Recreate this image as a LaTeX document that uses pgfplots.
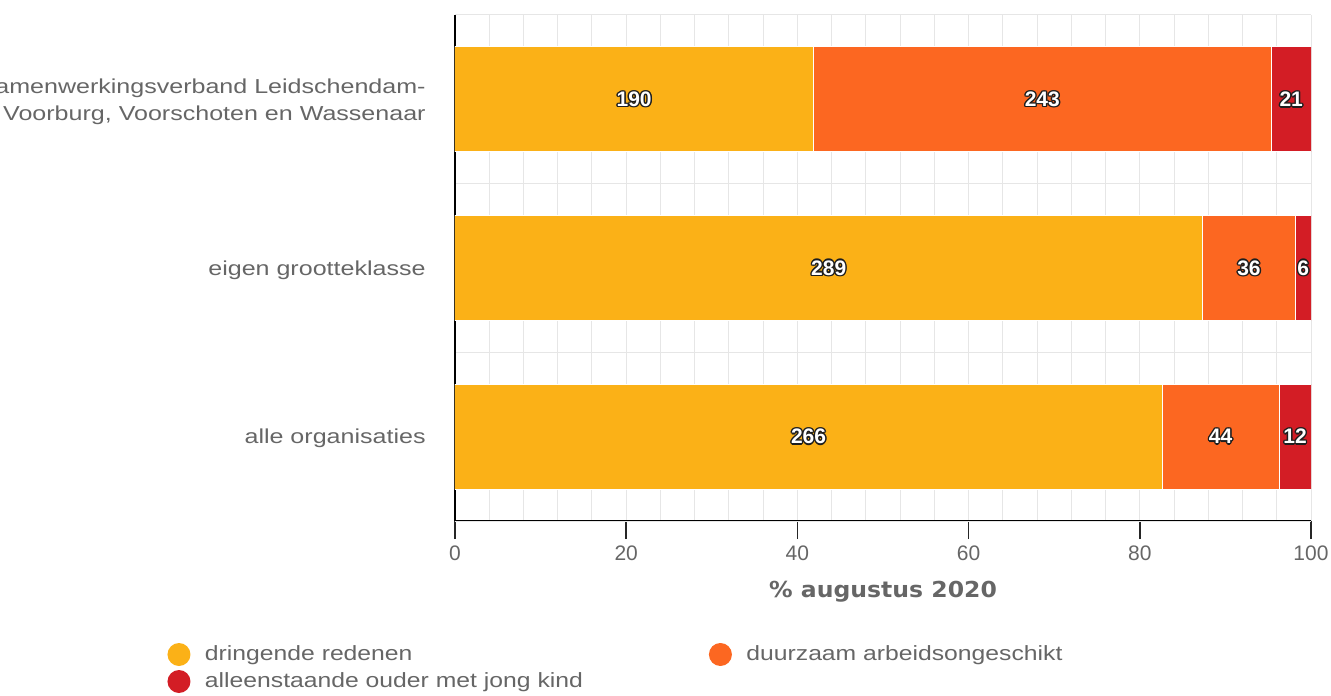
\documentclass[border=0pt]{standalone}
\usepackage{fontspec}
\setmainfont{Liberation Sans}
\newfontfamily\catfont[FakeStretch=1.24]{Liberation Sans}
\newfontfamily\legfont[FakeStretch=1.2]{Liberation Sans}
\newfontfamily\titlefont[FakeStretch=1.07]{DejaVu Sans}
\usepackage{pgfplots}
\pgfplotsset{compat=1.18}
\definecolor{yelc}{RGB}{251,177,23}
\definecolor{orac}{RGB}{252,103,33}
\definecolor{redc}{RGB}{211,29,37}
\definecolor{gray66}{RGB}{102,102,102}
\definecolor{gridc}{RGB}{230,230,230}
\definecolor{lblout}{RGB}{30,30,30}
\newcommand\sh[2]{\rlap{\kern#1\raisebox{#2}{\textcolor{lblout}{\copy0}}}}
\newcommand\outl[1]{\setbox0=\hbox{\fontsize{10.5}{12}\selectfont\bfseries #1}%
\sh{0.7pt}{0pt}\sh{-0.7pt}{0pt}\sh{0pt}{0.7pt}\sh{0pt}{-0.7pt}%
\sh{0.5pt}{0.5pt}\sh{-0.5pt}{0.5pt}\sh{0.5pt}{-0.5pt}\sh{-0.5pt}{-0.5pt}%
\textcolor{white}{\copy0}}
\begin{document}
\begin{tikzpicture}
\begin{axis}[
  name=ax, at={(0,0)}, anchor=south west,
  scale only axis, width=428pt, height=253pt,
  xbar stacked, bar width=52.5pt,
  xmin=0, xmax=100, ymin=-0.5, ymax=2.5, enlargelimits=false,
  axis x line*=bottom, axis y line*=left,
  axis line style={black, line width=0.8pt},
  xtick={0,20,...,100}, minor x tick num=4,
  tick align=outside, major tick length=9pt, minor tick length=0pt,
  xtick style={draw=black!85, line width=0.8pt},
  xmajorgrids, xminorgrids,
  major grid style={draw=gridc, line width=0.5pt},
  minor grid style={draw=gridc, line width=0.5pt},
  ytick={0,1,2},
  yticklabels={alle organisaties, eigen grootteklasse, {Samenwerkingsverband Leidschendam-\\Voorburg, Voorschoten en Wassenaar}},
  ytick style={draw=none},
  extra y ticks={-0.5,0.5,1.5,2.5}, extra y tick labels={},
  extra y tick style={ymajorgrids=true, major grid style={draw=gridc, line width=0.5pt}, ytick style={draw=none}},
  yticklabel style={font=\catfont\fontsize{10.1}{13.5}\selectfont, text=gray66, align=right, inner sep=0pt, xshift=-5.5pt, yshift=-1pt},
  xticklabel style={font=\fontsize{10.5}{12}\selectfont, text=gray66},
  /pgf/number format/assume math mode=true,
  xlabel={\% augustus 2020},
  xlabel style={font=\titlefont\bfseries\fontsize{11}{13}\selectfont, text=gray66, at={(axis description cs:0.5,0)}, anchor=base, yshift=-38pt},
  point meta=explicit symbolic,
  nodes near coords={\outl{\pgfplotspointmeta}},
  every node near coord/.append style={anchor=center},
  legend columns=2,
  legend image code/.code={\fill[#1, draw=none] (5.75pt,0pt) circle (5.75pt);},
  legend cell align=left,
  legend style={at={(axis description cs:0,0)}, anchor=north west, xshift=-143.75pt, yshift=-61pt,
    draw=none, fill=none, inner sep=0pt, outer sep=0pt, row sep=2pt,
    font=\legfont\fontsize{10.3}{12}\selectfont, text=gray66,
    nodes={inner sep=0pt},
    /tikz/column 1/.style={column sep=7.25pt},
    /tikz/column 2/.style={column sep=63pt},
    /tikz/column 3/.style={column sep=7.25pt}},
]
\addplot[fill=yelc, draw=white, line width=0.5pt] coordinates {(41.85,2) [190] (87.31,1) [289] (82.61,0) [266]};
\addplot[fill=orac, draw=white, line width=0.5pt] coordinates {(53.52,2) [243] (10.88,1) [36] (13.66,0) [44]};
\addplot[fill=redc, draw=white, line width=0.5pt] coordinates {(4.63,2) [21] (1.81,1) [6] (3.73,0) [12]};
\legend{dringende redenen, duurzaam arbeidsongeschikt, alleenstaande ouder met jong kind}
\draw[black, line width=0.8pt] (rel axis cs:0,0) -- (rel axis cs:0,1);
\end{axis}
\pgfresetboundingbox
\useasboundingbox (-227.5pt,-87pt) rectangle (438pt,260.5pt);
\end{tikzpicture}
\end{document}
